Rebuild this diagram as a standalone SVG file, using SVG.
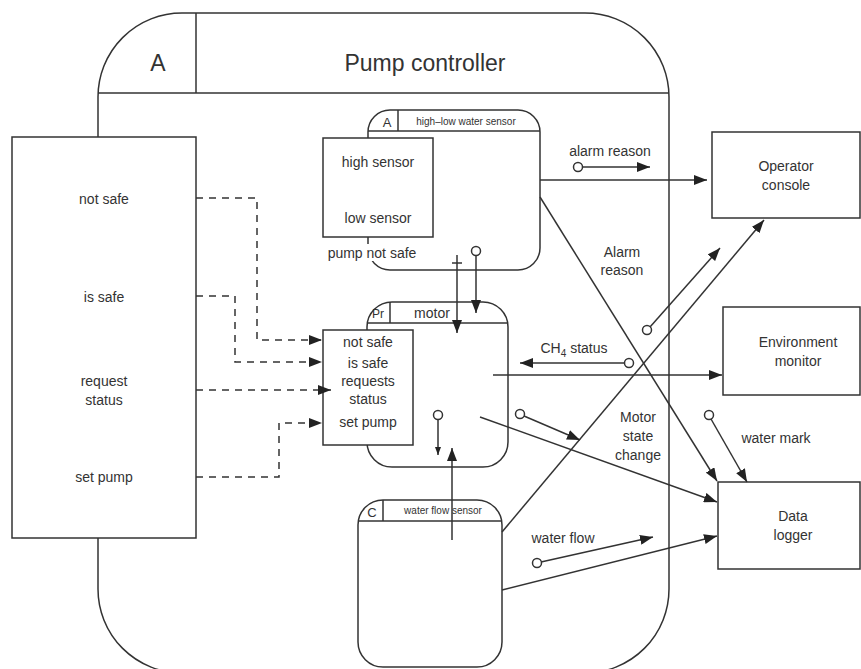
<svg xmlns="http://www.w3.org/2000/svg" width="861" height="669" viewBox="0 0 861 669">
<defs>
<style>
.ln{fill:none;stroke:#333;stroke-width:1.5}
.bx{fill:#fff;stroke:#333;stroke-width:1.5}
.ds{fill:none;stroke:#333;stroke-width:1.5;stroke-dasharray:7,6}
.t{font-family:"Liberation Sans",Arial,sans-serif;font-size:14px;fill:#333;text-anchor:middle}
.s{font-family:"Liberation Sans",Arial,sans-serif;font-size:10px;fill:#333;text-anchor:middle}
.c{fill:#fff;stroke:#333;stroke-width:1.5}
</style>
<marker id="a" markerUnits="userSpaceOnUse" markerWidth="14" markerHeight="10" refX="13" refY="5" orient="auto"><path d="M0,0 L13,5 L0,10 z" fill="#222"/></marker>
<marker id="as" markerUnits="userSpaceOnUse" markerWidth="8" markerHeight="6" refX="8" refY="3" orient="auto"><path d="M0,0 L8,3 L0,6 z" fill="#222"/></marker>
</defs>
<rect width="861" height="669" fill="#fff"/>

<g id="pump-controller">
<rect class="ln" x="98" y="13" width="571" height="660" rx="84"/>
<line class="ln" x1="98" y1="93" x2="669" y2="93"/>
<line class="ln" x1="196" y1="13" x2="196" y2="93"/>
<text class="t" x="158" y="71" style="font-size:23px">A</text>
<text class="t" x="425" y="71" style="font-size:23px">Pump controller</text>
</g>

<g id="interface">
<rect class="bx" x="12" y="137" width="184" height="401"/>
<text class="t" x="104" y="204">not safe</text>
<text class="t" x="104" y="302">is safe</text>
<text class="t" x="104" y="386">request</text>
<text class="t" x="104" y="405">status</text>
<text class="t" x="104" y="482">set pump</text>
</g>

<g id="high-low-water-sensor">
<rect class="bx" x="368" y="110" width="172" height="160" rx="22"/>
<line class="ln" x1="368" y1="131" x2="540" y2="131"/>
<line class="ln" x1="398" y1="110" x2="398" y2="131"/>
<text class="t" x="387" y="127" style="font-size:13px">A</text>
<text class="s" x="466" y="125">high–low water sensor</text>
<rect class="bx" x="323" y="138" width="110" height="99"/>
<text class="t" x="378" y="167">high sensor</text>
<text class="t" x="378" y="223">low sensor</text>
<rect x="318" y="244" width="110" height="17" fill="#fff"/>
<text class="t" x="372" y="258">pump not safe</text>
</g>

<g id="motor">
<rect class="bx" x="367" y="302" width="141" height="165" rx="25"/>
<line class="ln" x1="367" y1="323" x2="508" y2="323"/>
<line class="ln" x1="390" y1="302" x2="390" y2="323"/>
<text class="t" x="378" y="318" style="font-size:12px">Pr</text>
<text class="t" x="432" y="318">motor</text>
<rect class="bx" x="323" y="330" width="90" height="115"/>
<text class="t" x="368" y="347">not safe</text>
<text class="t" x="368" y="368">is safe</text>
<text class="t" x="368" y="386">requests</text>
<text class="t" x="368" y="404">status</text>
<text class="t" x="368" y="427">set pump</text>
</g>

<g id="water-flow-sensor">
<rect class="bx" x="358" y="500" width="144" height="167" rx="25"/>
<line class="ln" x1="358" y1="521" x2="502" y2="521"/>
<line class="ln" x1="383" y1="500" x2="383" y2="521"/>
<text class="t" x="372" y="517" style="font-size:13px">C</text>
<text class="s" x="443" y="514">water flow sensor</text>
</g>

<g id="operator-console">
<rect class="bx" x="712" y="132" width="148" height="86"/>
<text class="t" x="786" y="171">Operator</text>
<text class="t" x="786" y="190">console</text>
</g>

<g id="environment-monitor">
<rect class="bx" x="723" y="307" width="137" height="88"/>
<text class="t" x="798" y="347">Environment</text>
<text class="t" x="798" y="366">monitor</text>
</g>

<g id="data-logger">
<rect class="bx" x="718" y="482" width="142" height="87"/>
<text class="t" x="793" y="521">Data</text>
<text class="t" x="793" y="540">logger</text>
</g>

<g id="connectors">
<polyline class="ds" points="196,198 257,198 257,340 322,340" marker-end="url(#a)"/>
<polyline class="ds" points="196,296 235,296 235,362 322,362" marker-end="url(#a)"/>
<polyline class="ds" points="196,390 331,390" marker-end="url(#a)"/>
<polyline class="ds" points="196,477 279,477 279,423 322,423" marker-end="url(#a)"/>

<line class="ln" x1="457" y1="255" x2="457" y2="333" marker-end="url(#a)"/>
<line class="ln" x1="452" y1="263" x2="462" y2="263"/>
<line class="ln" x1="476" y1="255" x2="476" y2="313" marker-end="url(#a)"/>
<circle class="c" cx="476" cy="251" r="4.5"/>

<line class="ln" x1="540" y1="180" x2="707" y2="180" marker-end="url(#a)"/>
<text class="t" x="610" y="156">alarm reason</text>
<line class="ln" x1="582" y1="167" x2="650" y2="167" marker-end="url(#a)"/>
<circle class="c" cx="578" cy="167" r="4.5"/>

<line class="ln" x1="540" y1="197" x2="717" y2="481" marker-end="url(#a)"/>
<text class="t" x="622" y="257">Alarm</text>
<text class="t" x="622" y="275">reason</text>

<line class="ln" x1="502" y1="532" x2="764" y2="220" marker-end="url(#a)"/>
<line class="ln" x1="650" y1="327" x2="720" y2="248" marker-end="url(#a)"/>
<circle class="c" cx="647" cy="330" r="4.5"/>

<line class="ln" x1="493" y1="375" x2="722" y2="375" marker-end="url(#a)"/>
<text class="t" x="574" y="353">CH<tspan dy="4" style="font-size:10px">4</tspan><tspan dy="-4"> status</tspan></text>
<line class="ln" x1="625" y1="363" x2="520" y2="363" marker-end="url(#a)"/>
<circle class="c" cx="629" cy="363" r="4.5"/>

<line class="ln" x1="480" y1="417" x2="717" y2="502" marker-end="url(#a)"/>
<line class="ln" x1="524" y1="416" x2="580" y2="440" marker-end="url(#a)"/>
<circle class="c" cx="520" cy="414" r="4.5"/>
<text class="t" x="638" y="422">Motor</text>
<text class="t" x="638" y="441">state</text>
<text class="t" x="638" y="460">change</text>

<line class="ln" x1="711" y1="419" x2="747" y2="482" marker-end="url(#a)"/>
<circle class="c" cx="709" cy="415" r="4.5"/>
<text class="t" x="776" y="443">water mark</text>

<line class="ln" x1="502" y1="590" x2="717" y2="536" marker-end="url(#a)"/>
<line class="ln" x1="541" y1="562" x2="653" y2="537" marker-end="url(#a)"/>
<circle class="c" cx="537" cy="563" r="4.5"/>
<text class="t" x="563" y="543">water flow</text>

<line class="ln" x1="452" y1="540" x2="452" y2="448" marker-end="url(#a)"/>
<line class="ln" x1="438" y1="420" x2="438" y2="455" marker-end="url(#as)"/>
<circle class="c" cx="438" cy="415" r="4.5"/>
</g>
</svg>
